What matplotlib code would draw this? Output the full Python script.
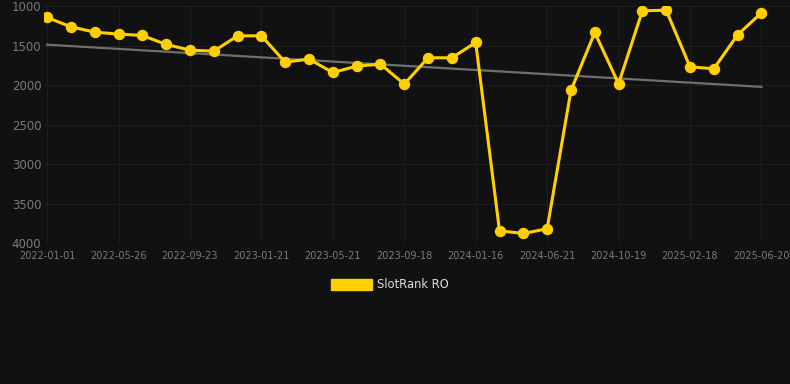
import matplotlib
matplotlib.use('Agg')
import matplotlib.pyplot as plt
from matplotlib.patches import Patch
import numpy as np

# ============ DATA ============
tick_labels = ['2022-01-01', '2022-05-26', '2022-09-23', '2023-01-21', '2023-05-21',
               '2023-09-18', '2024-01-16', '2024-06-21', '2024-10-19', '2025-02-18',
               '2025-06-20']
rank = [1143, 1262, 1329, 1354, 1371, 1485, 1557, 1570, 1376, 1376,
        1709, 1671, 1840, 1760, 1734, 1987, 1654, 1654, 1460, 3845,
        3878, 3819, 2068, 1333, 1983, 1059, 1051, 1768, 1793, 1363,
        1085]
trend = [1488, 2022]   # trend line, first and last point

BG = '#111111'
GOLD = '#ffd000'

x = np.arange(len(rank))

fig = plt.figure(figsize=(7.9, 3.84), dpi=100, facecolor=BG)
ax = fig.add_axes([0.056, 0.367, 0.944, 0.617], facecolor=BG)

ax.plot([x[0], x[-1]], trend, color='#6f6f6f', linewidth=1.6, zorder=2)
ax.plot(x, rank, color=GOLD, linewidth=2.2, marker='o', markersize=7.2,
        markerfacecolor=GOLD, markeredgecolor=GOLD, zorder=3)

ax.set_ylim(4000, 1000)
ax.set_yticks([1000, 1500, 2000, 2500, 3000, 3500, 4000])
ax.set_xlim(-0.12, 31.2)
ax.set_xticks(x[::3])
ax.set_xticklabels(tick_labels)

ax.grid(True, color='#1e1e1e', linewidth=0.8)
for s in ax.spines.values():
    s.set_visible(False)
ax.tick_params(axis='both', length=0)
ax.tick_params(axis='x', colors='#7a7a7a', labelsize=7, pad=6)
ax.tick_params(axis='y', colors='#7a7a7a', labelsize=8.5, pad=2)

fig.legend(handles=[Patch(color=GOLD)], labels=['SlotRank RO'], loc='center',
           bbox_to_anchor=(0.494, 0.258), frameon=False, fontsize=8.3,
           labelcolor='#dddddd', handlelength=3.5, handleheight=1.0,
           handletextpad=0.5)

plt.savefig('out.png', dpi=100, facecolor=BG)
plt.close()
